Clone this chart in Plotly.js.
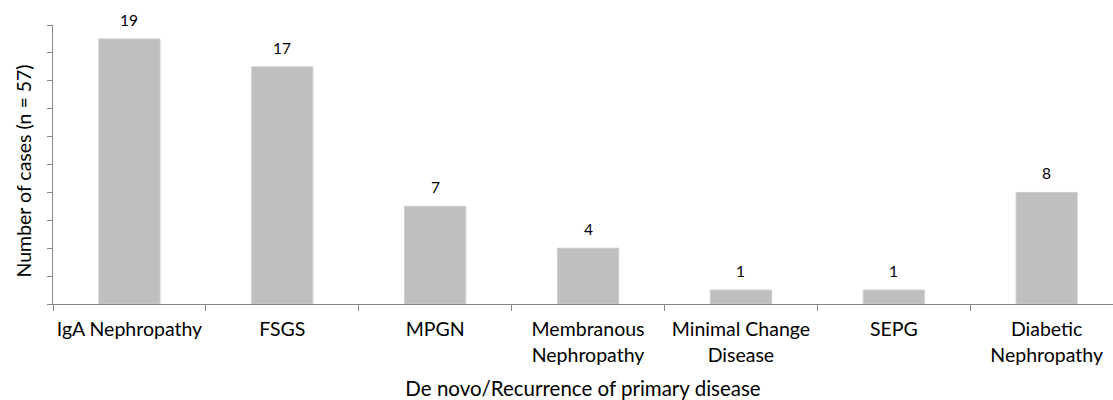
<!DOCTYPE html>
<html>
<head>
<meta charset="utf-8">
<script src="https://cdn.plot.ly/plotly-3.0.1.min.js"></script>
<style>html,body{margin:0;padding:0;background:#fff;}#chart{width:1113px;height:400px;}</style>
</head>
<body>
<div id="chart"></div>
<script>
var categories = ["IgA Nephropathy", "FSGS", "MPGN", "Membranous<br>Nephropathy", "Minimal Change<br>Disease", "SEPG", "Diabetic<br>Nephropathy"];
var cases = [19, 17, 7, 4, 1, 1, 8];
var xTitle = "De novo/Recurrence of primary disease";
var yTitle = "Number of cases (n = 57)";

var FONT = "Lato, sans-serif";

var trace = {
  type: "bar",
  x: categories,
  y: cases,
  width: 0.4,
  marker: {color: "#bfbfbf", line: {color: "#cccccc", width: 1}},
  hoverinfo: "none"
};

var annotations = categories.map(function (c, i) {
  return {
    x: c, y: cases[i], xref: "x", yref: "y",
    text: String(cases[i]), showarrow: false,
    yanchor: "bottom", yshift: 8,
    font: {family: FONT, size: 15.5, color: "#000"}
  };
});

annotations.push({
  x: 0, xref: "paper", xshift: -30, xanchor: "center",
  y: 0.475, yref: "paper", yanchor: "middle",
  text: yTitle, textangle: -90, showarrow: false,
  font: {family: FONT, size: 19.5, color: "#000"}
});

var layout = {
  width: 1113, height: 400,
  margin: {l: 53, r: 0, t: 25, b: 96},
  paper_bgcolor: "#fff", plot_bgcolor: "#fff",
  showlegend: false,
  font: {family: FONT, size: 19, color: "#000"},
  xaxis: {
    type: "category",
    range: [-0.5, 6.434],
    tickson: "boundaries",
    tickangle: 0,
    ticks: "outside", ticklen: 6, tickcolor: "#868686", tickwidth: 1,
    ticklabelstandoff: 8,
    showline: true, linecolor: "#868686", linewidth: 1,
    showgrid: false, zeroline: false,
    tickfont: {family: FONT, size: 19.5, color: "#000"},
    title: {text: xTitle, font: {family: FONT, size: 20.5, color: "#000"}, standoff: 22},
    automargin: false
  },
  yaxis: {
    range: [0, 20], dtick: 2,
    showticklabels: false,
    ticks: "outside", ticklen: 5, tickcolor: "#868686", tickwidth: 1,
    showline: true, linecolor: "#868686", linewidth: 1,
    showgrid: false, zeroline: false,
    automargin: false
  },
  annotations: annotations
};

Plotly.newPlot("chart", [trace], layout, {displayModeBar: false, staticPlot: true});
</script>
</body>
</html>
